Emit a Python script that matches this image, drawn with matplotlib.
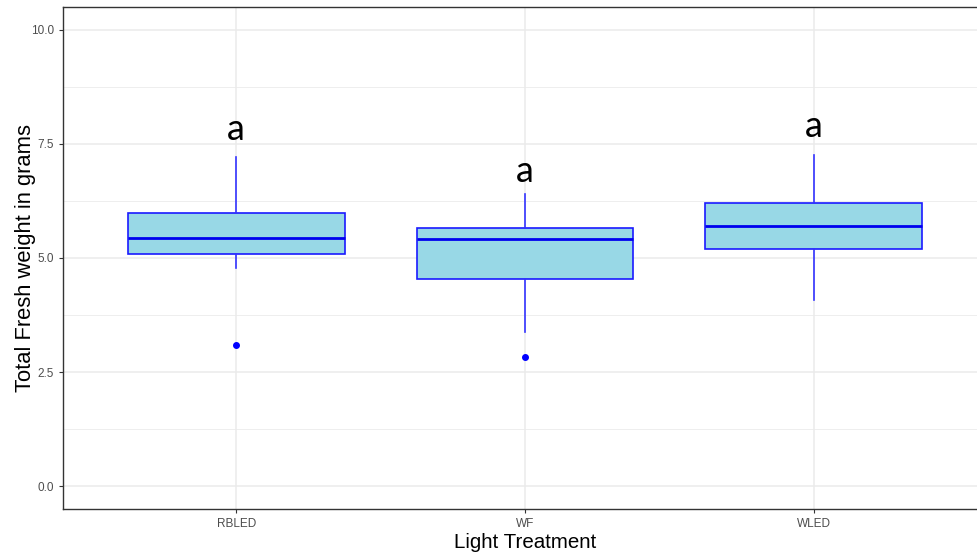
import matplotlib
matplotlib.use("Agg")
import matplotlib.pyplot as plt
import numpy as np

plt.rcParams.update({"font.family": ["Liberation Sans", "DejaVu Sans"]})

treatments = ["RBLED", "WF", "WLED"]
whisker_low = [4.77, 3.38, 4.07]
q1 = [5.08, 4.54, 5.19]
median = [5.44, 5.42, 5.70]
q3 = [5.99, 5.65, 6.21]
whisker_high = [7.22, 6.40, 7.25]
outliers = [[3.09], [2.83], []]
letters = ["a", "a", "a"]
letter_y = [7.81, 6.89, 7.88]

stats = [
    {"whislo": lo, "q1": a, "med": m, "q3": b, "whishi": hi, "fliers": f, "label": t}
    for t, lo, a, m, b, hi, f in zip(treatments, whisker_low, q1, median, q3, whisker_high, outliers)
]

fig = plt.figure(figsize=(9.77, 5.59), dpi=100)
ax = fig.add_axes([63 / 977, 50 / 559, (987 - 63) / 977, (509 - 7) / 559])

x = np.arange(1, len(treatments) + 1)
ax.bxp(stats, positions=x, widths=0.75, patch_artist=True, showcaps=False,
       boxprops=dict(facecolor="#98d8e6", edgecolor="#1a1aff", linewidth=1.2),
       medianprops=dict(color="#0000ee", linewidth=2.0),
       whiskerprops=dict(color="#3333ff", linewidth=1.2),
       flierprops=dict(marker="o", markerfacecolor="#0000ff", markeredgecolor="#0000ff",
                       markersize=4, linestyle="none"),
       zorder=3)

for xi, lab, yv in zip(x, letters, letter_y):
    ax.text(xi, yv, lab, ha="center", va="center", fontsize=26,
            family=["Lato", "DejaVu Sans"], zorder=4)

ax.set_xlim(0.4, 3.6)
ax.set_ylim(-0.5, 10.5)
ax.set_yticks([0, 2.5, 5.0, 7.5, 10.0])
ax.set_yticklabels(["0.0", "2.5", "5.0", "7.5", "10.0"])
ax.set_yticks([1.25, 3.75, 6.25, 8.75], minor=True)
ax.set_xticks(x)
ax.set_xticklabels(treatments)

ax.grid(True, which="major", color="#ebebeb", linewidth=1.1, zorder=0)
ax.grid(True, which="minor", axis="y", color="#ebebeb", linewidth=0.6, zorder=0)
ax.set_axisbelow(True)
ax.tick_params(which="major", length=3, color="#333333", labelsize=8.5, labelcolor="#4d4d4d")
ax.tick_params(which="minor", length=0)
for s in ax.spines.values():
    s.set_color("#333333")
    s.set_linewidth(1.0)

ax.set_xlabel("Light Treatment", fontsize=14.8, labelpad=2)
ax.set_ylabel("Total Fresh weight in grams", fontsize=15.8, labelpad=-4)

fig.savefig("out.png", dpi=100)
